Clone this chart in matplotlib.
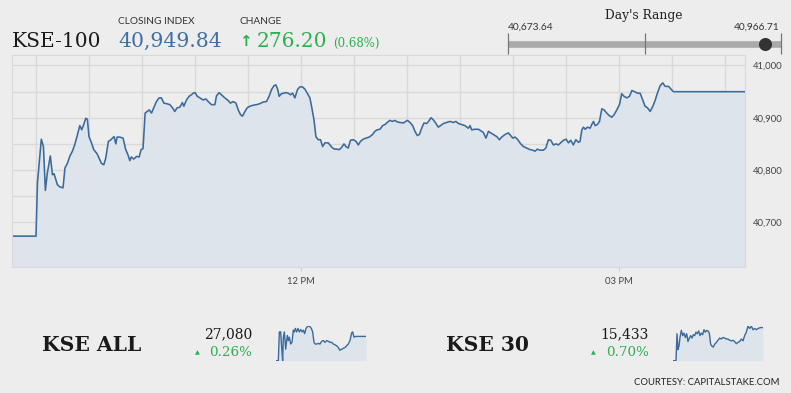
import numpy as np
import matplotlib as mpl
mpl.use('Agg')
import matplotlib.pyplot as plt

# KSE-100 intraday, minutes after 09:30 and index level
kse100_t = [-13.6, 0.0, 0.8, 3.0, 4.2, 5.3, 6.4, 8.1, 9.3, 10.2,
            12.1, 13.4, 15.3, 16.4, 17.8, 19.1, 20.6, 21.9, 23.2, 24.8,
            25.9, 27.0, 28.2, 29.1, 30.0, 31.4, 32.7, 34.6, 35.7, 37.0,
            38.4, 39.5, 41.0, 42.1, 43.3, 44.2, 45.2, 45.9, 47.4, 49.3,
            50.8, 52.1, 53.1, 54.0, 55.4, 56.9, 58.4, 59.5, 60.6, 61.8,
            62.9, 64.1, 65.4, 66.7, 68.2, 69.7, 71.0, 72.4, 73.9, 75.8,
            77.3, 78.6, 79.9, 81.4, 82.9, 83.7, 85.2, 86.7, 88.0, 89.0,
            90.1, 91.3, 92.8, 94.6, 96.2, 97.5, 99.4, 101.3, 102.2, 103.7,
            105.0, 106.9, 108.8, 110.1, 111.7, 113.2, 114.5, 115.8, 116.9, 118.3,
            119.6, 121.1, 123.0, 124.9, 126.8, 128.6, 130.5, 132.0, 133.4, 134.7,
            135.8, 136.8, 137.7, 139.0, 140.4, 141.5, 142.8, 144.1, 145.3, 146.6,
            148.1, 149.4, 150.9, 152.2, 153.6, 155.1, 156.2, 157.4, 158.5, 159.8,
            161.1, 162.3, 163.6, 165.5, 167.4, 168.9, 170.2, 171.7, 173.0, 174.4,
            175.5, 176.8, 178.1, 179.6, 181.2, 182.5, 183.8, 185.3, 186.8, 188.7,
            190.6, 191.9, 193.2, 194.8, 196.3, 197.6, 198.9, 200.4, 201.9, 203.3,
            204.6, 206.1, 208.0, 210.3, 211.8, 213.3, 214.6, 215.9, 217.1, 218.4,
            219.7, 221.2, 222.3, 223.7, 225.0, 226.5, 227.8, 229.1, 230.7, 232.5,
            234.4, 236.3, 237.8, 239.2, 241.0, 242.9, 244.8, 245.8, 246.7, 248.6,
            250.5, 252.4, 253.3, 254.8, 256.2, 257.5, 259.0, 260.9, 262.4, 263.7,
            265.6, 267.5, 268.8, 270.0, 271.3, 272.6, 274.5, 276.0, 277.9, 279.8,
            281.3, 282.6, 283.9, 285.4, 287.3, 288.7, 290.2, 291.5, 293.0, 294.5,
            295.8, 297.1, 298.7, 300.2, 301.5, 302.8, 304.3, 305.7, 307.2, 308.1,
            309.1, 310.0, 311.0, 312.3, 313.8, 314.7, 315.7, 316.6, 317.9, 319.1,
            320.4, 321.7, 323.2, 324.7, 326.1, 327.4, 328.9, 330.4, 331.7, 333.0,
            334.6, 336.1, 337.4, 338.9, 340.6, 342.1, 343.6, 344.9, 346.3, 347.8,
            349.3, 350.6, 351.9, 353.4, 354.9, 356.3, 358.2, 359.5, 361.0, 401.5]
kse100_v = [40673.6, 40673.6, 40775, 40859, 40845, 40761, 40794, 40827, 40791, 40793,
            40772, 40768, 40766, 40804, 40813, 40826, 40836, 40848, 40864, 40885,
            40877, 40887, 40899, 40897, 40864, 40852, 40839, 40831, 40823, 40813,
            40810, 40823, 40855, 40857, 40861, 40864, 40850, 40863, 40863, 40861,
            40839, 40829, 40818, 40825, 40821, 40826, 40825, 40839, 40841, 40909,
            40912, 40915, 40909, 40919, 40931, 40938, 40938, 40928, 40927, 40925,
            40919, 40912, 40919, 40920, 40929, 40922, 40934, 40941, 40944, 40947,
            40948, 40941, 40938, 40934, 40936, 40931, 40925, 40925, 40942, 40948,
            40944, 40938, 40933, 40928, 40931, 40928, 40915, 40906, 40903, 40912,
            40919, 40922, 40924, 40925, 40927, 40930, 40931, 40941, 40954, 40961,
            40963, 40955, 40941, 40946, 40947, 40948, 40947, 40944, 40947, 40938,
            40954, 40959, 40959, 40955, 40947, 40938, 40919, 40896, 40864, 40858,
            40858, 40845, 40852, 40852, 40844, 40840, 40840, 40839, 40843, 40850,
            40845, 40842, 40857, 40858, 40855, 40848, 40855, 40859, 40861, 40863,
            40868, 40874, 40877, 40878, 40885, 40887, 40891, 40895, 40893, 40895,
            40892, 40891, 40890, 40895, 40891, 40885, 40874, 40866, 40868, 40880,
            40890, 40889, 40893, 40900, 40896, 40889, 40882, 40885, 40889, 40891,
            40893, 40891, 40893, 40889, 40887, 40885, 40880, 40885, 40877, 40878,
            40878, 40874, 40872, 40861, 40874, 40871, 40868, 40864, 40858, 40863,
            40868, 40871, 40866, 40861, 40863, 40859, 40850, 40845, 40842, 40839,
            40838, 40836, 40840, 40838, 40838, 40842, 40858, 40857, 40848, 40850,
            40848, 40852, 40857, 40859, 40852, 40857, 40848, 40858, 40853, 40855,
            40877, 40882, 40878, 40882, 40880, 40887, 40893, 40885, 40887, 40893,
            40917, 40915, 40909, 40904, 40901, 40906, 40915, 40925, 40946, 40941,
            40938, 40941, 40952, 40950, 40947, 40947, 40934, 40922, 40919, 40912,
            40922, 40933, 40947, 40961, 40966.7, 40960, 40960, 40955, 40949.84, 40949.84]

# small sparklines
kseall_t = [-13.6, -2.8, 1.8, 7.9, 12.5, 17.1, 20.2, 24.8, 31.0, 38.6,
            43.2, 47.8, 54.0, 60.1, 66.3, 70.9, 75.5, 81.6, 87.8, 93.9,
            100.1, 106.2, 112.4, 118.5, 124.6, 130.8, 136.9, 143.1, 149.2, 155.4,
            161.5, 167.6, 173.8, 181.5, 189.2, 196.8, 204.5, 212.2, 219.9, 227.6,
            235.2, 242.9, 250.6, 258.3, 265.9, 273.6, 281.3, 289.0, 296.8, 304.4,
            312.0, 319.7, 327.4, 335.1, 339.7, 345.8, 355.0, 365.8, 381.2, 401.2]
kseall_v = [27010, 27010, 27093, 27093, 27048, 27010, 27078, 27093, 27043, 27083,
            27068, 27078, 27058, 27063, 27098, 27093, 27103, 27093, 27103, 27093,
            27100, 27093, 27098, 27088, 27103, 27108, 27110, 27108, 27103, 27093,
            27063, 27058, 27058, 27060, 27058, 27066, 27068, 27063, 27068, 27066,
            27063, 27063, 27058, 27056, 27053, 27048, 27040, 27043, 27046, 27048,
            27053, 27058, 27068, 27090, 27093, 27078, 27080, 27080, 27080, 27080]
kse30_t = [-13.6, 0.2, 4.8, 9.4, 14.0, 18.7, 24.8, 31.0, 37.1, 43.2,
           49.4, 55.5, 61.7, 67.8, 73.9, 80.1, 86.2, 92.4, 98.5, 104.7,
           110.8, 117.0, 123.1, 129.2, 135.4, 141.5, 147.7, 153.8, 160.0, 166.1,
           172.3, 178.4, 186.1, 193.8, 201.4, 209.1, 216.8, 224.5, 232.2, 239.8,
           247.5, 255.2, 262.9, 270.6, 278.2, 285.9, 293.6, 301.3, 309.0, 316.6,
           324.3, 332.0, 339.7, 347.4, 355.0, 362.7, 370.4, 378.1, 390.4, 401.2]
kse30_v = [15326, 15326, 15413, 15362, 15373, 15401, 15424, 15407, 15415, 15401,
           15413, 15388, 15399, 15407, 15399, 15410, 15407, 15418, 15413, 15422,
           15407, 15415, 15410, 15426, 15418, 15424, 15422, 15415, 15379, 15373,
           15370, 15379, 15385, 15392, 15399, 15396, 15401, 15399, 15396, 15396,
           15392, 15390, 15392, 15388, 15381, 15385, 15388, 15396, 15390, 15407,
           15418, 15438, 15430, 15438, 15426, 15430, 15426, 15430, 15433, 15433]

day_low = 40673.64
day_high = 40966.71
close_100 = 40949.84

ytick_vals = [40700, 40800, 40900, 41000]
ytick_labels = ["40,700", "40,800", "40,900", "41,000"]
xtick_vals = [150, 330]
xtick_labels = ["12 PM", "03 PM"]

BG = '#ededed'
LINE = '#3b6a9b'
FILL = '#dde4ec'
GRID = '#d9d9d9'
GREEN = '#2bb04f'
BLUE = '#3f6fa3'
SANS = 'Lato'
SERIF = 'DejaVu Serif'

W, H = 791, 393
fig = plt.figure(figsize=(W / 100.0, H / 100.0), dpi=100, facecolor=BG)


def box(x0, y0, x1, y1):
    # pixel box (top-left origin) -> figure fraction rect
    return [x0 / W, 1 - y1 / H, (x1 - x0) / W, (y1 - y0) / H]


def px(x, y):
    return x / W, 1 - y / H


# ---- main chart ----
ax = fig.add_axes(box(12, 55, 745, 267.3))
ax.set_facecolor(BG)
ax.fill_between(kse100_t, kse100_v, 40500, color=FILL, lw=0)
ax.plot(kse100_t, kse100_v, color=LINE, lw=1.15)
ax.set_xlim(-13.6, 401.5)
ax.set_ylim(40614, 41020)
ax.set_xticks(xtick_vals)
ax.set_xticklabels(xtick_labels)
ax.set_xticks(np.arange(0, 391, 30), minor=True)
ax.set_yticks(ytick_vals)
ax.set_yticklabels(ytick_labels)
ax.set_yticks(np.arange(40650, 41001, 100), minor=True)
ax.yaxis.tick_right()
ax.grid(True, which='both', color=GRID, lw=1)
ax.set_axisbelow(True)
ax.tick_params(axis='x', which='major', length=3, color='#cfcfcf', pad=4,
               labelsize=6.8, labelcolor='#444444')
ax.tick_params(axis='x', which='minor', length=0)
ax.tick_params(axis='y', which='both', length=0, pad=6, labelsize=6.8,
               labelcolor='#444444')
for lab in ax.get_xticklabels() + ax.get_yticklabels():
    lab.set_family(SANS)
for s in ax.spines.values():
    s.set_color(GRID)

# ---- header ----
fig.text(*px(12, 47), "KSE-100", family=SERIF, fontsize=14.5, color='#1a1a1a',
         va='baseline')
fig.text(*px(118, 24), "CLOSING INDEX", family=SANS, fontsize=7.3,
         color='#333333', va='baseline')
fig.text(*px(118, 47), "40,949.84", family=SERIF, fontsize=14.7, color=BLUE,
         va='baseline')
fig.text(*px(240, 24), "CHANGE", family=SANS, fontsize=7.3, color='#333333',
         va='baseline')
fig.text(*px(239, 46), "\u2191", family='DejaVu Sans', fontsize=11,
         fontweight='bold', color=GREEN, va='baseline')
fig.text(*px(257, 47), "276.20", family=SERIF, fontsize=14.5, color=GREEN,
         va='baseline')
fig.text(*px(333, 47), "(0.68%)", family=SERIF, fontsize=8.5, color=GREEN,
         va='baseline')

# ---- day's range ----
rax = fig.add_axes(box(508, 33, 781, 54))
rax.set_xlim(day_low, day_high)
rax.set_ylim(-1, 1)
rax.axis('off')
mid = (day_low + day_high) / 2
rax.plot([day_low, day_high], [0, 0], color='#aaaaaa', lw=4.8,
         solid_capstyle='butt', clip_on=False)
rax.vlines([day_low, mid, day_high], -1.0, 1.0, color='#777777', lw=0.9,
           clip_on=False)
rax.plot([close_100], [0], 'o', color='#333333', ms=8.4, clip_on=False)
fig.text(*px(644, 15), "Day's Range", family=SERIF, fontsize=8.8,
         color='#222222', ha='center', va='center')
fig.text(*px(508, 30), "40,673.64", family=SANS, fontsize=7.3,
         color='#333333', va='baseline')
fig.text(*px(780, 30), "40,966.71", family=SANS, fontsize=7.3,
         color='#333333', va='baseline', ha='right')

# ---- bottom row ----
fig.text(*px(42, 351), "KSE ALL", family=SERIF, fontsize=14.6, fontweight='bold',
         color='#1a1a1a', va='baseline')
fig.text(*px(252, 338), "27,080", family=SERIF, fontsize=10,
         color='#1a1a1a', va='baseline', ha='right')
fig.text(*px(197, 352.5), "\u25b2", family='DejaVu Sans', fontsize=4.5,
         color=GREEN, va='center', ha='center')
fig.text(*px(252, 355.5), "0.26%", family=SERIF, fontsize=9.7,
         color=GREEN, va='baseline', ha='right')

fig.text(*px(446, 351), "KSE 30", family=SERIF, fontsize=14.6, fontweight='bold',
         color='#1a1a1a', va='baseline')
fig.text(*px(649, 338), "15,433", family=SERIF, fontsize=10,
         color='#1a1a1a', va='baseline', ha='right')
fig.text(*px(593, 352.5), "\u25b2", family='DejaVu Sans', fontsize=4.5,
         color=GREEN, va='center', ha='center')
fig.text(*px(649, 355.5), "0.70%", family=SERIF, fontsize=9.7,
         color=GREEN, va='baseline', ha='right')

for rect, tt, vv in [(box(276, 326, 366, 360.7), kseall_t, kseall_v),
                     (box(673, 326, 763, 360.7), kse30_t, kse30_v)]:
    sax = fig.add_axes(rect)
    sax.fill_between(tt, vv, min(vv), color=FILL, lw=0)
    sax.plot(tt, vv, color=LINE, lw=1.0)
    sax.set_xlim(min(tt), max(tt))
    sax.set_ylim(min(vv), max(vv))
    sax.axis('off')

fig.text(*px(780, 385), "COURTESY: CAPITALSTAKE.COM", family=SANS,
         fontsize=6.8, color='#222222', va='baseline', ha='right')

plt.savefig("out.png", dpi=100, facecolor=BG)
